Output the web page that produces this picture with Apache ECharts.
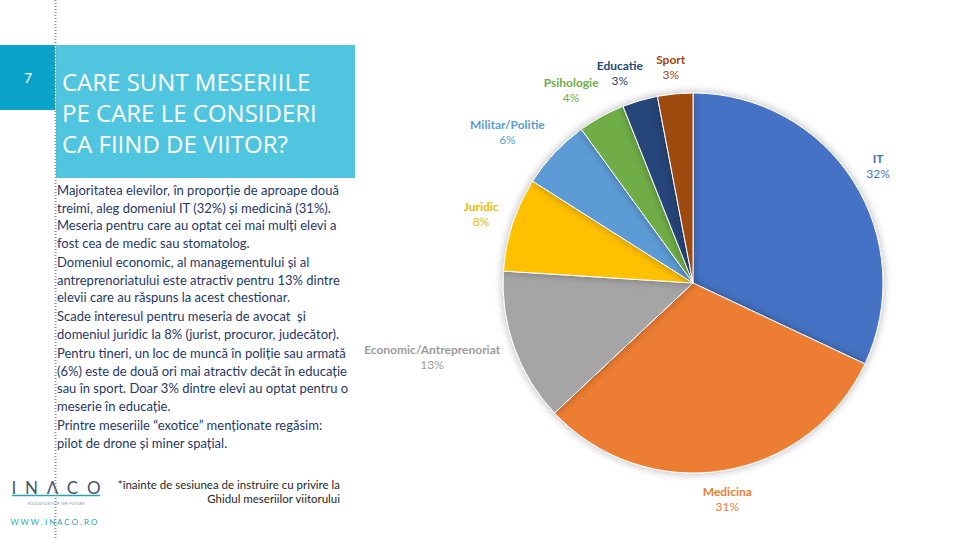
<!DOCTYPE html>
<html>
<head>
<meta charset="utf-8">
<script src="https://cdn.jsdelivr.net/npm/echarts@6/dist/echarts.min.js"></script>
<style>
html,body{margin:0;padding:0;background:#fff;}
#c{width:960px;height:540px;}
</style>
</head>
<body>
<div id="c"></div>
<script>
const categories = ['IT','Medicina','Economic/Antreprenoriat','Juridic','Militar/Politie','Psihologie','Educatie','Sport'];
const values = [32,31,13,8,6,4,3,3];
const colors = ['#4472C4','#ED7D31','#A5A5A5','#FFC000','#5B9BD5','#70AD47','#264478','#9E480E'];
const labelColors = ['#4472C4','#ED7D31','#9C9C9C','#F2B800','#5B9BD5','#70AD47','#264478','#9E480E'];

const titleLines = ['CARE SUNT MESERIILE','PE CARE LE CONSIDERI','CA FIIND DE VIITOR?'];
const bodyParas = [
 ['Majoritatea elevilor, în proporție de aproape două','treimi, aleg domeniul IT (32%) și medicină (31%).','Meseria pentru care au optat cei mai mulți elevi a','fost cea de medic sau stomatolog.'],
 ['Domeniul economic, al managementului și al','antreprenoriatului este atractiv pentru 13% dintre','elevii care au răspuns la acest chestionar.'],
 ['Scade interesul pentru meseria de avocat  și','domeniul juridic la 8% (jurist, procuror, judecător).'],
 ['Pentru tineri, un loc de muncă în poliție sau armată','(6%) este de două ori mai atractiv decât în educație','sau în sport. Doar 3% dintre elevi au optat pentru o','meserie în educație.'],
 ['Printre meseriile “exotice” menționate regăsim:','pilot de drone și miner spațial.']
];
const footnote = ['*înainte de sesiunea de instruire cu privire la','Ghidul meseriilor viitorului'];

// layout: label angular nudges (degrees) to mimic the original label placement
const labelAngleShift = [0,0,4,0,-4,-3.5,-3,-0.5];

const CX = 693, CY = 283, R = 190;
const total = values.reduce((a,b)=>a+b,0);
const cum = [];
values.reduce((a,v,i)=>{cum[i]=a+v/2; return a+v;},0);

const graphics = [];
graphics.push({type:'line',shape:{x1:55.5,y1:0,x2:55.5,y2:540},style:{stroke:'#8C8C8C',lineWidth:2,lineDash:[1,2]},z:5});
graphics.push({type:'rect',shape:{x:0,y:45,width:55,height:65},style:{fill:'#0BA3C9'}});
graphics.push({type:'rect',shape:{x:56,y:45,width:299,height:133},style:{fill:'#4FC5E0'}});
graphics.push({type:'text',x:28,y:77,style:{text:'7',fill:'#fff',font:'14px Lato',align:'center',verticalAlign:'middle'}});
titleLines.forEach((t,i)=>{
  graphics.push({type:'text',x:62,y:81+i*31,style:{text:t,fill:'#fff',font:'24px "Open Sans"',verticalAlign:'middle'}});
});
let y = 190;
bodyParas.forEach((p)=>{
  p.forEach((line)=>{
    graphics.push({type:'text',x:57,y:y,style:{text:line,fill:'#1F3864',font:'13px Lato',verticalAlign:'middle'}});
    y += 17.6;
  });
  y += 1.6;
});
footnote.forEach((t,i)=>{
  graphics.push({type:'text',x:340,y:484+i*14,style:{text:t,fill:'#262626',font:'11.5px Lato',align:'right',verticalAlign:'middle'}});
});
graphics.push({type:'text',x:56,y:487,style:{text:'I  N  Λ  C  O',fill:'#44546A',font:'17px Lato',align:'center',verticalAlign:'middle'}});
graphics.push({type:'line',shape:{x1:12,y1:495.5,x2:100,y2:495.5},style:{stroke:'#2AA5B5',lineWidth:1.5}});
graphics.push({type:'text',x:56,y:503,style:{text:'EDUCATION FOR THE FUTURE',fill:'#8C9BAA',font:'4px Lato',align:'center',verticalAlign:'middle'}});
graphics.push({type:'text',x:54,y:522,style:{text:'W W W . I N A C O . R O',fill:'#2AA5B5',font:'8px Lato',align:'center',verticalAlign:'middle'}});

const chart = echarts.init(document.getElementById('c'),null,{renderer:'svg',width:960,height:540});
chart.setOption({
  animation:false,
  backgroundColor:'#fff',
  graphic:graphics,
  series:[{
    type:'pie',
    center:[CX,CY],
    radius:R,
    startAngle:90,
    clockwise:true,
    itemStyle:{borderColor:'#fff',borderWidth:1,shadowBlur:8,shadowColor:'rgba(0,0,0,0.3)'},
    label:{
      show:true,position:'outside',
      formatter:'{n|{b}}\n{p|{c}%}',
      rich:{
        n:{fontFamily:'Lato',fontWeight:'bold',fontSize:12,lineHeight:15,align:'center'},
        p:{fontFamily:'Lato',fontSize:12,lineHeight:15,align:'center'}
      }
    },
    labelLine:{show:false},
    labelLayout:function(p){
      const i = p.dataIndex;
      const a = cum[i]/total*2*Math.PI + labelAngleShift[i]*Math.PI/180;
      const s = Math.sin(a), c = Math.cos(a);
      const r = R + 12 + (p.labelRect.width/2)*Math.abs(s) + (p.labelRect.height/2)*Math.abs(c);
      return {x: CX + r*s, y: CY - r*c, align:'center', verticalAlign:'middle'};
    },
    data: categories.map((n,i)=>({name:n,value:values[i],itemStyle:{color:colors[i]},label:{color:labelColors[i]}}))
  }]
});
</script>
</body>
</html>
